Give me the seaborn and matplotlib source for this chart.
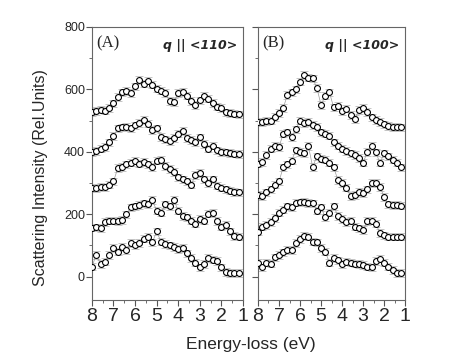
import numpy as np
import matplotlib
matplotlib.use("Agg")
import matplotlib.pyplot as plt
import seaborn as sns
from matplotlib.ticker import MultipleLocator

# energy-loss grid (eV)
energy = [8.0, 7.8, 7.6, 7.4, 7.2, 7.0, 6.8, 6.6, 6.4, 6.2, 6.0, 5.8, 5.6, 5.4, 5.2,
          5.0, 4.8, 4.6, 4.4, 4.2, 4.0, 3.8, 3.6, 3.4, 3.2, 3.0, 2.8, 2.6, 2.4, 2.2,
          2.0, 1.8, 1.6, 1.4, 1.2]

# panel A, q || <110>
a1 = [528, 530, 535, 532, 540, 555, 575, 590, 595, 588, 610, 630, 618, 628, 615,
      602, 596, 588, 562, 560, 588, 592, 580, 562, 550, 565, 578, 570, 556, 545,
      540, 526, 525, 522, 520]
a2 = [400, 402, 410, 415, 430, 450, 475, 478, 480, 475, 485, 492, 502, 490, 470,
      475, 448, 440, 435, 445, 458, 466, 445, 438, 432, 446, 425, 410, 420, 405,
      400, 398, 396, 394, 393]
a3 = [285, 284, 288, 286, 295, 305, 348, 352, 360, 365, 372, 362, 368, 360, 352,
      372, 374, 355, 345, 335, 318, 312, 305, 295, 325, 332, 312, 300, 312, 292,
      285, 280, 276, 272, 270]
a4 = [157, 158, 156, 176, 180, 180, 178, 182, 200, 222, 225, 230, 235, 232, 245,
      212, 205, 232, 225, 245, 212, 195, 190, 180, 170, 185, 180, 202, 204, 178,
      160, 165, 145, 130, 128]
a5 = [32, 70, 40, 48, 70, 92, 80, 95, 85, 108, 100, 108, 122, 128, 110,
      145, 112, 105, 100, 95, 88, 92, 75, 60, 45, 30, 40, 60, 55, 50,
      30, 15, 12, 12, 12]

# panel B, q || <100>
b1 = [496, 496, 498, 500, 512, 525, 540, 582, 590, 600, 625, 646, 638, 635, 605,
      550, 580, 590, 542, 548, 530, 538, 518, 505, 534, 541, 528, 510, 502, 496,
      488, 482, 480, 480, 478]
b2 = [362, 368, 390, 410, 420, 415, 458, 462, 448, 472, 500, 492, 496, 486, 480,
      462, 458, 452, 430, 420, 410, 402, 395, 390, 380, 365, 400, 418, 398, 365,
      395, 385, 375, 365, 350]
b3 = [262, 258, 270, 280, 295, 305, 350, 360, 372, 405, 400, 395, 418, 352, 385,
      378, 375, 365, 350, 310, 300, 285, 258, 262, 272, 268, 280, 300, 300, 288,
      255, 232, 230, 230, 228]
b4 = [144, 160, 165, 175, 188, 205, 215, 225, 222, 237, 238, 240, 236, 235, 212,
      222, 190, 205, 225, 195, 185, 175, 180, 160, 155, 150, 178, 180, 170, 140,
      132, 128, 128, 128, 128]
b5 = [45, 30, 45, 42, 62, 70, 78, 85, 86, 108, 120, 130, 128, 112, 110,
      92, 80, 45, 60, 52, 40, 48, 45, 42, 40, 38, 32, 30, 50, 58,
      45, 32, 22, 12, 12]

err = 12

sns.set_style("ticks")
plt.rcParams["font.family"] = ["Liberation Sans", "DejaVu Sans"]

fig = plt.figure(figsize=(4.69, 3.59), dpi=100)
ax_a = fig.add_axes([0.196, 0.164, 0.322, 0.761])
ax_b = fig.add_axes([0.550, 0.164, 0.314, 0.761])

panels = [(ax_a, [a1, a2, a3, a4, a5], "(A)", "q || <110>"),
          (ax_b, [b1, b2, b3, b4, b5], "(B)", "q || <100>")]

for ax, curves, tag, direction in panels:
    for vals in curves:
        ax.errorbar(energy, vals, yerr=err, fmt="none", ecolor="#c4c4c4",
                    elinewidth=0.7, capsize=3, capthick=0.7, zorder=1)
        sns.lineplot(x=energy, y=vals, ax=ax, color="#9a9a9a", lw=0.5,
                     sort=False, zorder=2)
        sns.scatterplot(x=energy, y=vals, ax=ax, s=18, facecolor="white",
                        edgecolor="black", linewidth=0.8, zorder=3)
    ax.set_xlim(8, 1)
    ax.set_ylim(-75, 800)
    ax.set_xticks([8, 7, 6, 5, 4, 3, 2, 1])
    ax.xaxis.set_minor_locator(MultipleLocator(0.5))
    ax.set_yticks([0, 200, 400, 600, 800])
    ax.yaxis.set_minor_locator(MultipleLocator(100))
    ax.tick_params(axis="x", labelsize=14, length=4, pad=2, color="#555555")
    ax.tick_params(axis="y", labelsize=9, length=4, pad=1, color="#555555")
    ax.tick_params(which="minor", length=2, color="#555555")
    for sp in ax.spines.values():
        sp.set_color("#666666")
        sp.set_linewidth(0.8)
    ax.text(0.03, 0.97, tag, transform=ax.transAxes, ha="left", va="top",
            fontsize=12, family="Liberation Serif")
    ax.text(0.96, 0.955, direction, transform=ax.transAxes, ha="right", va="top",
            fontsize=9, family="DejaVu Sans", fontweight="bold", style="italic")
    ax.set_xlabel("")
    ax.set_ylabel("")

ax_b.tick_params(axis="y", labelleft=False)
ax_a.set_ylabel("Scattering Intensity (Rel.Units)", fontsize=11.5)
ax_a.yaxis.set_label_coords(-0.29, 0.45)
fig.text(0.535, 0.04, "Energy-loss (eV)", ha="center", va="center", fontsize=12.5)

fig.savefig("out.png", dpi=100)
